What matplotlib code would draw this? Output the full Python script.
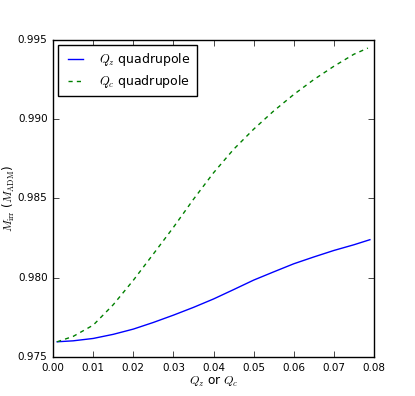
import numpy as np
import matplotlib
matplotlib.use("Agg")
import matplotlib.pyplot as plt

plt.style.use("classic")
plt.rcParams["font.family"] = ["DejaVu Sans"]
plt.rcParams["mathtext.fontset"] = "cm"

# values
q = [0.001, 0.005, 0.01, 0.015, 0.02, 0.025, 0.03, 0.035, 0.04,
     0.045, 0.05, 0.055, 0.06, 0.065, 0.07, 0.075, 0.079]
m_qz = [0.97596, 0.97602, 0.97617, 0.97643, 0.97676, 0.97718, 0.97764, 0.97813, 0.97866,
        0.97925, 0.97985, 0.98037, 0.98088, 0.98131, 0.98172, 0.98208, 0.98240]
q_c = [0.001, 0.005, 0.01, 0.015, 0.02, 0.025, 0.03, 0.035, 0.04,
       0.045, 0.05, 0.055, 0.06, 0.065, 0.07, 0.075, 0.0785]
m_qc = [0.97596, 0.97630, 0.97701, 0.97830, 0.97984, 0.98150, 0.98318, 0.98495, 0.98662,
        0.98810, 0.98937, 0.99052, 0.99156, 0.99250, 0.99334, 0.99410, 0.99449]

fig = plt.figure(figsize=(4.15, 3.96), dpi=100, facecolor="white")
ax = fig.add_axes([0.128, 0.0985, 0.773, 0.8005])

ax.plot(q, m_qz, color="b", linestyle="-", linewidth=1.0, label=r"$Q_z$ quadrupole")
ax.plot(q_c, m_qc, color="g", linestyle="--", dashes=(3, 3), linewidth=1.0,
        label=r"$Q_c$ quadrupole")

ax.set_xlim(0.0, 0.08)
ax.set_ylim(0.975, 0.995)
xt = np.arange(0, 0.0801, 0.01)
yt = [0.975, 0.980, 0.985, 0.990, 0.995]
ax.set_xticks(xt)
ax.set_yticks(yt)
ax.set_xticklabels(["%.2f" % v for v in xt])
ax.set_yticklabels(["%.3f" % v for v in yt])
ax.tick_params(labelsize=7.5)

ax.set_xlabel(r"$Q_z$ or $Q_c$", fontsize=8.7, labelpad=2)
ax.set_ylabel(r"$M_{\rm irr}$ ($M_{\rm ADM}$)", fontsize=8.5, labelpad=0.5)

leg = ax.legend(loc="upper left", fontsize=9, handlelength=1.8, handletextpad=1.0,
                borderpad=0.5, labelspacing=0.4, fancybox=False, borderaxespad=0.4)

fig.savefig("out.png", dpi=100, facecolor="white")
